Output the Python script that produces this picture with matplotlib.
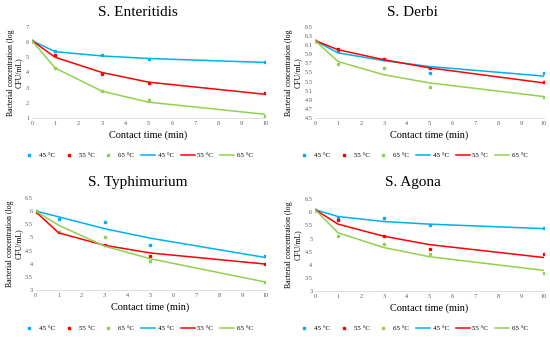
import matplotlib.pyplot as plt

plt.rcParams['font.family'] = ['Liberation Serif', 'DejaVu Serif']

t = [0, 1, 3, 5, 10]
temps = ['45 °C', '55 °C', '65 °C']
colors = ['#00B0F0', '#FF0000', '#92D050']

titles = ['S. Enteritidis', 'S. Derbi', 'S. Typhimurium', 'S. Agona']

# measured points (45, 55, 65 °C)
ent_obs = [[6.1, 5.4, 5.16, 4.87, 4.68],
           [6.1, 5.18, 3.9, 3.3, 2.67],
           [6.1, 4.3, 2.77, 2.17, 1.1]]
ent_fit = [[6.1, 5.37, 5.09, 4.92, 4.66],
           [6.1, 5.0, 4.0, 3.36, 2.56],
           [6.1, 4.29, 2.77, 2.04, 1.24]]

der_obs = [[6.2, 5.97, 5.8, 5.49, 5.49],
           [6.2, 6.01, 5.79, 5.6, 5.28],
           [6.2, 5.69, 5.59, 5.19, 4.97]]
der_fit = [[6.2, 5.93, 5.76, 5.63, 5.42],
           [6.2, 6.0, 5.78, 5.6, 5.27],
           [6.2, 5.74, 5.45, 5.27, 4.97]]

typ_obs = [[6.0, 5.7, 5.6, 4.7, 4.3],
           [5.97, 5.2, 4.7, 4.3, 4.0],
           [6.0, 5.2, 5.0, 4.1, 3.3]]
typ_fit = [[6.0, 5.78, 5.33, 4.97, 4.24],
           [5.97, 5.17, 4.7, 4.41, 3.99],
           [6.0, 5.46, 4.67, 4.19, 3.31]]

ago_obs = [[6.1, 5.78, 5.79, 5.5, 5.4],
           [6.1, 5.7, 5.1, 4.6, 4.4],
           [6.1, 5.1, 4.8, 4.4, 3.7]]
ago_fit = [[6.1, 5.84, 5.65, 5.55, 5.38],
           [6.1, 5.55, 5.09, 4.77, 4.28],
           [6.1, 5.22, 4.66, 4.31, 3.79]]

obs_all = [ent_obs, der_obs, typ_obs, ago_obs]
fit_all = [ent_fit, der_fit, typ_fit, ago_fit]

yticks = [[1, 2, 3, 4, 5, 6, 7],
          [4.5, 4.7, 4.9, 5.1, 5.3, 5.5, 5.7, 5.9, 6.1, 6.3, 6.5],
          [3, 3.5, 4, 4.5, 5, 5.5, 6, 6.5],
          [3, 3.5, 4, 4.5, 5, 5.5, 6, 6.5]]
ytick_labels = [[str(v) for v in yticks[0]],
                [str(v) for v in yticks[1]],
                ['3', '3.5', '4', '4.5', '5', '5.5', '6', '6.5'],
                ['3', '3.5', '4', '4.5', '5', '5.5', '6', '6.5']]

positions = [[0.058, 0.650, 0.424, 0.270],
             [0.573, 0.650, 0.416, 0.270],
             [0.065, 0.139, 0.417, 0.274],
             [0.573, 0.136, 0.416, 0.273]]
title_pos = [(0.25, 0.962), (0.75, 0.962), (0.25, 0.458), (0.75, 0.458)]
legend_y = [0.540, 0.540, 0.026, 0.026]

fig = plt.figure(figsize=(5.5, 3.37), dpi=100)

for k in range(4):
    ax = fig.add_axes(positions[k])
    for j in range(3):
        ax.plot(t, obs_all[k][j], 's', color=colors[j], markersize=1.8,
            linestyle='none', label=temps[j])
    for j in range(3):
        ax.plot(t, fit_all[k][j], '-', color=colors[j], linewidth=1.1,
            label=temps[j])
    ax.set_xlim(0, 10)
    ax.set_ylim(yticks[k][0], yticks[k][-1])
    ax.set_xticks(range(11))
    ax.set_yticks(yticks[k])
    ax.set_yticklabels(ytick_labels[k])
    ax.tick_params(labelsize=4.5, colors='#595959', length=0, pad=2)
    for s in ['top', 'right', 'left']:
        ax.spines[s].set_visible(False)
    ax.spines['bottom'].set_color('#d9d9d9')
    ax.spines['bottom'].set_linewidth(0.6)
    ax.set_xlabel('Contact time (min)', fontsize=7.4, labelpad=3)
    ax.set_ylabel('Bacterial concentration (log\nCFU/mL)', fontsize=5.6,
        labelpad=2, linespacing=1.1)
    fig.text(title_pos[k][0], title_pos[k][1], titles[k], fontsize=11,
        ha='center', va='center')
    handles, labels = ax.get_legend_handles_labels()
    fig.legend(handles, labels, loc='center',
        bbox_to_anchor=(title_pos[k][0], legend_y[k]), ncol=6,
        frameon=False, fontsize=5, handlelength=2.0, columnspacing=1.0,
        handletextpad=0.4, markerscale=1.0)

plt.savefig('out.png', dpi=100)
